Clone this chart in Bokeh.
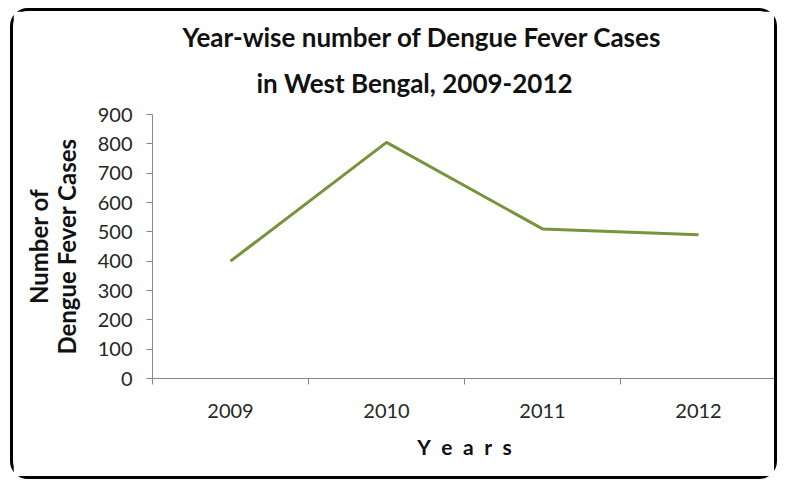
from bokeh.plotting import figure
from bokeh.models import FixedTicker, Title, Range1d
from bokeh.embed import file_html
from bokeh.resources import INLINE

# ---- data ----
years = ["2009", "2010", "2011", "2012"]
cases = [400, 805, 510, 490]
y_ticks = [0, 100, 200, 300, 400, 500, 600, 700, 800, 900]
title_lines = ["Year-wise number of Dengue Fever Cases", "in West Bengal, 2009-2012"]
y_label = "Number of\nDengue Fever Cases"
x_label = "Y\u2002e\u2002a\u2002r\u2002s"

FONT = "Lato"
AXIS_COLOR = "#868686"
TEXT_COLOR = "#262626"

xs = [i + 1 for i in range(len(years))]
boundaries = [i + 0.5 for i in range(len(years) + 1)]

p = figure(width=767, height=471, output_backend="svg", toolbar_location=None,
           x_range=Range1d(0.5, len(years) + 0.5), y_range=Range1d(y_ticks[0], y_ticks[-1]),
           min_border_left=139, min_border_right=4, min_border_top=103, min_border_bottom=104)
p.styles = {"margin-left": "10px", "margin-top": "8px",
            "border": "3px solid #000", "border-radius": "18px"}
p.background_fill_color = "white"
p.border_fill_color = "white"
p.outline_line_color = None
p.xgrid.visible = False
p.ygrid.visible = False

p.line(xs, cases, line_color="#77933C", line_width=3)

# x axis
xa = p.xaxis[0]
xa.ticker = FixedTicker(ticks=xs, minor_ticks=boundaries)
xa.major_label_overrides = {x: y for x, y in zip(xs, years)}
xa.major_tick_line_color = None
xa.major_tick_out = 0
xa.major_tick_in = 0
xa.minor_tick_line_color = AXIS_COLOR
xa.minor_tick_in = 0
xa.minor_tick_out = 6
xa.axis_line_color = AXIS_COLOR
xa.major_label_text_font = FONT
xa.major_label_text_font_size = "20px"
xa.major_label_text_color = TEXT_COLOR
xa.major_label_standoff = 19
xa.axis_label = x_label
xa.axis_label_text_font = FONT
xa.axis_label_text_font_style = "bold"
xa.axis_label_text_font_size = "21px"
xa.axis_label_text_color = "#111111"
xa.axis_label_standoff = 13

# y axis
ya = p.yaxis[0]
ya.ticker = FixedTicker(ticks=y_ticks)
ya.major_tick_in = 0
ya.major_tick_out = 6
ya.major_tick_line_color = AXIS_COLOR
ya.minor_tick_line_color = None
ya.axis_line_color = AXIS_COLOR
ya.major_label_text_font = FONT
ya.major_label_text_font_size = "20px"
ya.major_label_text_color = TEXT_COLOR
ya.major_label_standoff = 14
ya.axis_label = y_label
ya.axis_label_text_font = FONT
ya.axis_label_text_font_style = "bold"
ya.axis_label_text_font_size = "24px"
ya.axis_label_text_line_height = 0.95
ya.axis_label_text_color = "#111111"
ya.axis_label_standoff = 14

# title (two lines, added nearest-to-frame first)
p.add_layout(Title(text=title_lines[1], align="left", offset=104, standoff=28,
                   vertical_align="top", text_line_height=0.7,
                   text_font=FONT, text_font_style="bold", text_font_size="26px",
                   text_color="#111111"), "above")
p.add_layout(Title(text=title_lines[0], align="left", offset=30, standoff=0,
                   vertical_align="bottom", text_line_height=0.7,
                   text_font=FONT, text_font_style="bold", text_font_size="26px",
                   text_color="#111111"), "above")

open("out.html", "w").write(file_html(p, INLINE))
